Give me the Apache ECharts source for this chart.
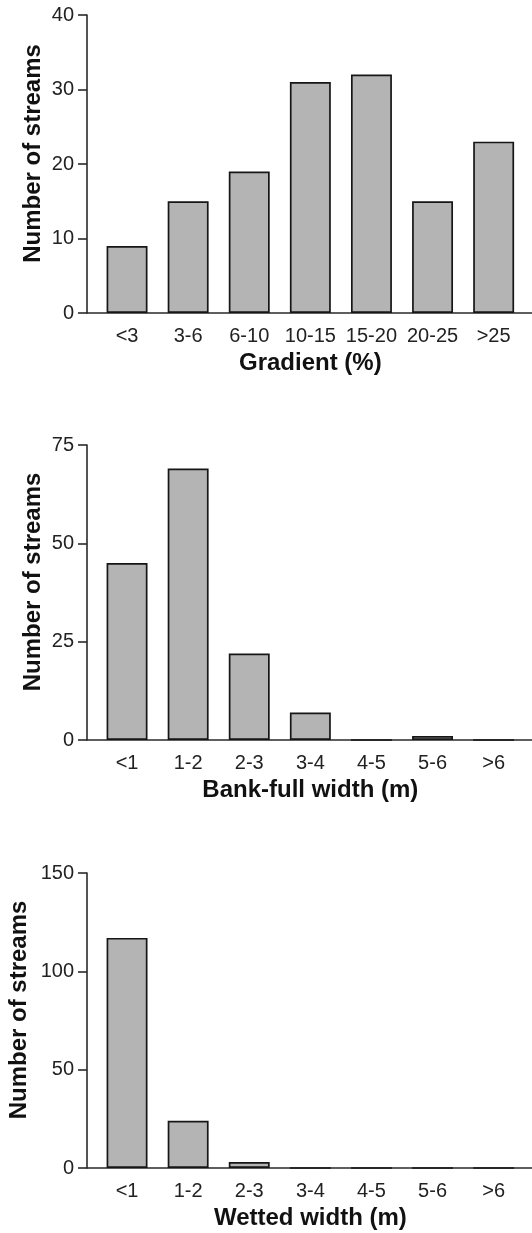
<!DOCTYPE html>
<html>
<head>
<meta charset="utf-8">
<script src="https://cdn.jsdelivr.net/npm/echarts@6/dist/echarts.min.js"></script>
<style>
html,body{margin:0;padding:0;background:#fff;}
#chart{width:532px;height:1233px;}
</style>
</head>
<body>
<div id="chart"></div>
<script>
// ---- data ----
const gradientCats = ['<3', '3-6', '6-10', '10-15', '15-20', '20-25', '>25'];
const gradientCounts = [9, 15, 19, 31, 32, 15, 23];
const widthCats = ['<1', '1-2', '2-3', '3-4', '4-5', '5-6', '>6'];
const bankfullCounts = [45, 69, 22, 7, 0, 1, 0];
const wettedCounts = [117, 24, 3, 0, 0, 0, 0];
const gradientTicks = [0, 10, 20, 30, 40];
const bankfullTicks = [0, 25, 50, 75];
const wettedTicks = [0, 50, 100, 150];
const yTitle = 'Number of streams';
const xTitles = ['Gradient (%)', 'Bank-full width (m)', 'Wetted width (m)'];

// ---- layout / style ----
const FONT = "'Liberation Sans', Arial, Helvetica, sans-serif";
const AXIS_COLOR = '#2a2a2a';
const panels = [
  { top: 15,  height: 298, cats: gradientCats, vals: gradientCounts, ticks: gradientTicks, xName: xTitles[0], yGap: 42 },
  { top: 445, height: 295, cats: widthCats,    vals: bankfullCounts, ticks: bankfullTicks, xName: xTitles[1], yGap: 42 },
  { top: 873, height: 295, cats: widthCats,    vals: wettedCounts,   ticks: wettedTicks,   xName: xTitles[2], yGap: 56 }
];

const grid = [], xAxis = [], yAxis = [], series = [];
panels.forEach((p, i) => {
  const tmin = p.ticks[0], tmax = p.ticks[p.ticks.length - 1];
  const step = p.ticks[1] - p.ticks[0];
  const gA = grid.length;
  grid.push({ left: 87, right: 0, top: p.top, height: p.height, containLabel: false, outerBoundsMode: 'none' });
  const gB = grid.length;
  grid.push({ left: 96.5, width: 427.7, top: p.top, height: p.height, containLabel: false, outerBoundsMode: 'none' });

  // frame axes (grid A)
  xAxis.push({
    gridIndex: gA, type: 'value', min: 0, max: 1,
    axisLine: { show: true, lineStyle: { color: AXIS_COLOR, width: 1.6 } },
    axisTick: { show: false }, axisLabel: { show: false }, splitLine: { show: false }
  });
  yAxis.push({
    gridIndex: gA, type: 'value', min: tmin, max: tmax, interval: step,
    axisLine: { show: true, lineStyle: { color: AXIS_COLOR, width: 1.6 } },
    axisTick: { show: true, inside: false, length: 9, lineStyle: { color: AXIS_COLOR, width: 1.6 } },
    axisLabel: { show: true, margin: 13, color: '#222', fontSize: 20, fontFamily: FONT },
    splitLine: { show: false },
    name: yTitle, nameLocation: 'middle', nameRotate: 90, nameGap: p.yGap, nameMoveOverlap: false,
    nameTextStyle: { color: '#111', fontSize: 24, fontWeight: 'bold', fontFamily: FONT, padding: [0, 0, 0, 21] }
  });

  // category axes (grid B)
  xAxis.push({
    gridIndex: gB, type: 'category', data: p.cats, boundaryGap: true,
    axisLine: { show: false }, axisTick: { show: false },
    axisLabel: { show: true, margin: 13, color: '#222', fontSize: 20, fontFamily: FONT, interval: 0 },
    splitLine: { show: false },
    name: p.xName, nameLocation: 'middle', nameGap: 38, nameMoveOverlap: false,
    nameTextStyle: { color: '#111', fontSize: 24, fontWeight: 'bold', fontFamily: FONT }
  });
  yAxis.push({
    gridIndex: gB, type: 'value', min: tmin, max: tmax, show: false, splitLine: { show: false }
  });

  series.push({
    type: 'bar', xAxisIndex: xAxis.length - 1, yAxisIndex: yAxis.length - 1,
    data: p.vals, barWidth: '67%', z: 1,
    itemStyle: { color: '#b4b4b4', borderColor: '#161616', borderWidth: 1.7 },
    silent: true
  });
});

const chart = echarts.init(document.getElementById('chart'), null, { renderer: 'canvas' });
chart.setOption({
  animation: false,
  backgroundColor: '#ffffff',
  grid, xAxis, yAxis, series
});
</script>
</body>
</html>
